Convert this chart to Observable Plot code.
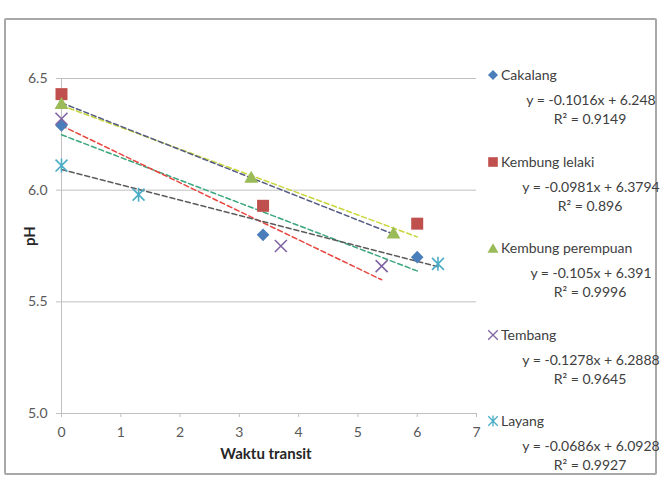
<!DOCTYPE html>
<html><head><meta charset="utf-8">
<script src="https://cdn.jsdelivr.net/npm/d3@7"></script>
<script src="https://cdn.jsdelivr.net/npm/@observablehq/plot@0.6"></script>
<style>
body{margin:0;background:#fff;}
#wrap{position:relative;width:664px;height:480px;overflow:hidden;font-family:Lato,"Open Sans",sans-serif;}
#frame{position:absolute;left:4px;top:18px;width:653px;height:457px;border:2px solid #a8a8a8;border-radius:2px;box-sizing:border-box;}
#chart{position:absolute;left:0;top:0;}
.leg{position:absolute;color:#404040;font-size:14px;line-height:16px;white-space:nowrap;}
.eq{text-align:center;width:200px;font-size:14px;}
</style></head><body>
<div id="wrap"><div id="frame"></div><div id="chart"></div></div>
<script>
// ---- data ----
const seriesNames = ["Cakalang", "Kembung lelaki", "Kembung perempuan", "Tembang", "Layang"];
const xCakalang = [0, 3.4, 6.0];
const yCakalang = [6.29, 5.80, 5.70];
const xKembungLelaki = [0, 3.4, 6.0];
const yKembungLelaki = [6.43, 5.93, 5.85];
const xKembungPerempuan = [0, 3.2, 5.6];
const yKembungPerempuan = [6.39, 6.06, 5.81];
const xTembang = [0, 3.7, 5.4];
const yTembang = [6.32, 5.75, 5.66];
const xLayang = [0, 1.3, 6.35];
const yLayang = [6.11, 5.98, 5.67];
const trendSlopes = [-0.1016, -0.0981, -0.105, -0.1278, -0.0686];
const trendIntercepts = [6.248, 6.3794, 6.391, 6.2888, 6.0928];
const rSquared = ["0.9149", "0.896", "0.9996", "0.9645", "0.9927"];
const xTicks = [0, 1, 2, 3, 4, 5, 6, 7];
const yTicks = [5.0, 5.5, 6.0, 6.5];
const xLabel = "Waktu transit";
const yLabel = "pH";

// ---- styles ----
const markerColors = ["#4A7EBB", "#C0504D", "#9BBB59", "#8064A2", "#4BACC6"];
const trendColors = ["#3AA67C", "#C8D63A", "#545C84", "#E8453F", "#5C5C5C"];
const gridColor = "#c0c0c0";
const textColor = "#595959";

const rad = s => Math.sqrt(s / Math.PI);
const diamondSym = {draw(c, s){const h = rad(s); c.moveTo(0,-h); c.lineTo(h,0); c.lineTo(0,h); c.lineTo(-h,0); c.closePath();}};
const squareSym = {draw(c, s){const h = rad(s); c.rect(-h,-h,2*h,2*h);}};
const triangleSym = {draw(c, s){const h = rad(s); c.moveTo(0,-h); c.lineTo(1.15*h,h); c.lineTo(-1.15*h,h); c.closePath();}};
const timesSym = {draw(c, s){const h = rad(s); c.moveTo(-h,-h); c.lineTo(h,h); c.moveTo(-h,h); c.lineTo(h,-h);}};
const starSym = {draw(c, s){const h = rad(s); const k = 0.85*h; c.moveTo(0,-h); c.lineTo(0,h); c.moveTo(-k,-k); c.lineTo(k,k); c.moveTo(-k,k); c.lineTo(k,-k);}};
const symbols = [diamondSym, squareSym, triangleSym, timesSym, starSym];
const filled = [true, true, true, false, false];
const sizes = [6.3, 6, 6, 6, 7];

const xs = [xCakalang, xKembungLelaki, xKembungPerempuan, xTembang, xLayang];
const ys = [yCakalang, yKembungLelaki, yKembungPerempuan, yTembang, yLayang];

const points = seriesNames.flatMap((name, i) => xs[i].map((x, j) => ({series: name, x, y: ys[i][j]})));
const trends = seriesNames.flatMap((name, i) => {
  const xmax = d3.max(xs[i]);
  return [0, xmax].map(x => ({series: name, x, y: trendIntercepts[i] + trendSlopes[i] * x}));
});

const marks = [
  Plot.gridY(yTicks, {stroke: gridColor, strokeOpacity: 1}),
  Plot.ruleX([0], {stroke: gridColor}),
  Plot.axisY(yTicks, {tickFormat: d3.format(".1f"), tickSize: 5, tickPadding: 9, stroke: gridColor, fill: textColor, fontSize: 14, label: null}),
  Plot.axisX(xTicks, {tickSize: 4, tickPadding: 10, stroke: gridColor, fill: textColor, fontSize: 14, label: null}),
  Plot.text([yLabel], {frameAnchor: "left", dx: -31, rotate: -90, fontWeight: "bold", fontSize: 15, fill: "#262626"}),
  Plot.text([xLabel], {frameAnchor: "bottom", dy: 45, dx: -3, fontWeight: "bold", fontSize: 15, fill: "#262626"})
];
seriesNames.forEach((name, i) => {
  marks.push(Plot.line(trends.filter(d => d.series === name), {x: "x", y: "y", stroke: trendColors[i], strokeWidth: 1.5, strokeDasharray: "5,3"}));
});
seriesNames.forEach((name, i) => {
  const data = points.filter(d => d.series === name);
  marks.push(Plot.dot(data, filled[i]
    ? {x: "x", y: "y", symbol: symbols[i], r: sizes[i], fill: markerColors[i], stroke: "none"}
    : {x: "x", y: "y", symbol: symbols[i], r: sizes[i], fill: "none", stroke: markerColors[i], strokeWidth: 1.6}));
});

const chart = Plot.plot({
  width: 664, height: 480,
  marginLeft: 61, marginRight: 188, marginTop: 78, marginBottom: 67,
  x: {domain: [0, 7]},
  y: {domain: [5, 6.5]},
  style: {fontFamily: "Lato, 'Open Sans', sans-serif", background: "transparent", overflow: "visible"},
  marks
});
document.getElementById("chart").appendChild(chart);

// ---- legend ----
const wrap = document.getElementById("wrap");
const nameY0 = 75, nameStep = 86.5;
seriesNames.forEach((name, i) => {
  const cy = nameY0 + i * nameStep;
  const svg = d3.create("svg").attr("width", 16).attr("height", 16)
    .style("position", "absolute").style("left", (493 - 8) + "px").style("top", (cy - 8) + "px");
  const p = svg.append("path").attr("transform", "translate(8,8)")
    .attr("d", d3.symbol(symbols[i], Math.PI * Math.pow(sizes[i] * 0.8, 2))());
  if (filled[i]) p.attr("fill", markerColors[i]);
  else p.attr("fill", "none").attr("stroke", markerColors[i]).attr("stroke-width", 1.3);
  wrap.appendChild(svg.node());

  const nm = document.createElement("div");
  nm.className = "leg"; nm.textContent = name;
  nm.style.left = "501px"; nm.style.top = (cy - 8) + "px";
  wrap.appendChild(nm);

  const eq = document.createElement("div");
  eq.className = "leg eq";
  eq.textContent = `y = ${trendSlopes[i]}x + ${trendIntercepts[i]}`;
  eq.style.left = (591 - 100) + "px"; eq.style.top = (cy + 25 - 8) + "px";
  wrap.appendChild(eq);

  const r2 = document.createElement("div");
  r2.className = "leg eq";
  r2.textContent = `R² = ${rSquared[i]}`;
  r2.style.left = (590 - 100) + "px"; r2.style.top = (cy + 44 - 8) + "px";
  wrap.appendChild(r2);
});
</script>
</body></html>
